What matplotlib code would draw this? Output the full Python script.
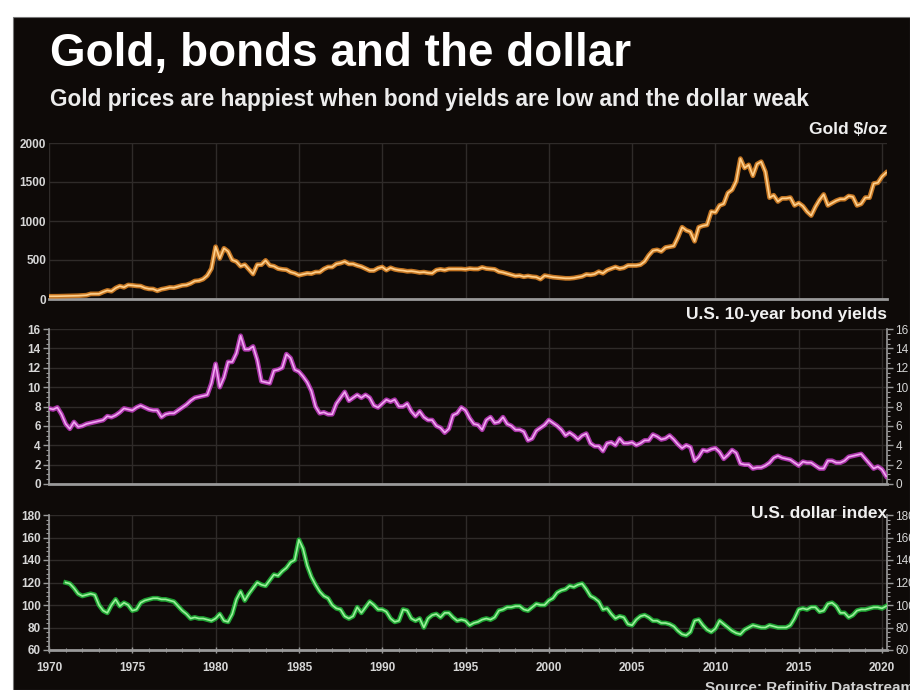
import numpy as np
import matplotlib
matplotlib.use("Agg")
import matplotlib.pyplot as plt
from matplotlib.patches import Rectangle
from matplotlib.ticker import MultipleLocator

plt.rcParams['font.family'] = ['Liberation Sans', 'DejaVu Sans']

# ---------------- data (quarterly readings) ----------------
start_year = 1970.0
gold = [
    35, 35, 35.5, 37,      # 1970
    38, 39, 41, 42,        # 1971
    46, 49, 65, 65,        # 1972
    66, 90, 110, 100,      # 1973
    140, 165, 150, 180,    # 1974
    175, 168, 165, 142,    # 1975
    130, 128, 105, 125,    # 1976
    135, 148, 145, 160,    # 1977
    175, 180, 200, 230,    # 1978
    235, 255, 300, 390,    # 1979
    670, 520, 650, 610,    # 1980
    500, 480, 420, 440,    # 1981
    380, 320, 440, 440,    # 1982
    495, 430, 420, 390,    # 1983
    380, 375, 345, 330,    # 1984
    305, 318, 330, 325,    # 1985
    345, 345, 385, 410,    # 1986
    410, 450, 460, 480,    # 1987
    450, 450, 430, 415,    # 1988
    390, 365, 365, 395,    # 1989
    410, 370, 400, 380,    # 1990
    370, 365, 355, 358,    # 1991
    350, 340, 345, 335,    # 1992
    330, 370, 380, 370,    # 1993
    385, 385, 385, 385,    # 1994
    380, 390, 385, 385,    # 1995
    405, 390, 385, 380,    # 1996
    350, 340, 325, 310,    # 1997
    295, 300, 285, 295,    # 1998
    285, 280, 255, 300,    # 1999
    290, 280, 275, 270,    # 2000
    265, 265, 270, 280,    # 2001
    290, 315, 310, 320,    # 2002
    350, 330, 370, 390,    # 2003
    410, 390, 400, 430,    # 2004
    430, 430, 440, 480,    # 2005
    560, 620, 630, 610,    # 2006
    660, 670, 680, 790,    # 2007
    920, 880, 860, 740,    # 2008
    920, 940, 950, 1120,   # 2009
    1110, 1200, 1220, 1360,  # 2010
    1400, 1510, 1800, 1680,  # 2011
    1720, 1580, 1730, 1760,  # 2012
    1630, 1300, 1330, 1250,  # 2013
    1290, 1290, 1300, 1200,  # 2014
    1230, 1190, 1120, 1070,  # 2015
    1180, 1270, 1340, 1200,  # 2016
    1230, 1260, 1280, 1280,  # 2017
    1320, 1310, 1200, 1220,  # 2018
    1300, 1300, 1480, 1490,  # 2019
    1570, 1620,              # 2020
]
bond = [
    7.8, 7.7, 7.9, 7.2,    # 1970
    6.2, 5.7, 6.4, 5.9,    # 1971
    6.0, 6.2, 6.3, 6.4,    # 1972
    6.5, 6.6, 7.0, 6.9,    # 1973
    7.1, 7.4, 7.8, 7.7,    # 1974
    7.6, 7.9, 8.1, 7.9,    # 1975
    7.7, 7.6, 7.6, 6.9,    # 1976
    7.2, 7.3, 7.3, 7.6,    # 1977
    7.9, 8.2, 8.6, 8.9,    # 1978
    9.0, 9.1, 9.2, 10.4,   # 1979
    12.4, 10.0, 11.0, 12.6,  # 1980
    12.6, 13.5, 15.3, 13.9,  # 1981
    13.9, 14.2, 12.8, 10.6,  # 1982
    10.5, 10.4, 11.7, 11.8,  # 1983
    12.0, 13.4, 13.0, 11.8,  # 1984
    11.6, 11.1, 10.5, 9.6,   # 1985
    8.0, 7.3, 7.4, 7.2,    # 1986
    7.2, 8.3, 8.9, 9.5,    # 1987
    8.6, 8.9, 9.2, 8.9,    # 1988
    9.2, 8.9, 8.1, 7.9,    # 1989
    8.3, 8.7, 8.5, 8.7,    # 1990
    8.0, 8.0, 8.3, 7.5,    # 1991
    7.0, 7.5, 6.9, 6.6,    # 1992
    6.6, 6.0, 5.8, 5.3,    # 1993
    5.7, 7.1, 7.3, 7.9,    # 1994
    7.6, 6.8, 6.2, 6.1,    # 1995
    5.6, 6.6, 6.9, 6.3,    # 1996
    6.4, 6.9, 6.2, 6.0,    # 1997
    5.6, 5.6, 5.4, 4.5,    # 1998
    4.7, 5.5, 5.8, 6.1,    # 1999
    6.6, 6.3, 6.0, 5.6,    # 2000
    5.0, 5.3, 5.0, 4.6,    # 2001
    5.0, 5.2, 4.2, 3.9,    # 2002
    3.9, 3.4, 4.2, 4.3,    # 2003
    4.0, 4.7, 4.2, 4.2,    # 2004
    4.3, 4.0, 4.2, 4.5,    # 2005
    4.5, 5.1, 4.9, 4.6,    # 2006
    4.7, 5.0, 4.6, 4.1,    # 2007
    3.7, 4.0, 3.8, 2.4,    # 2008
    2.8, 3.5, 3.4, 3.6,    # 2009
    3.7, 3.3, 2.6, 3.0,    # 2010
    3.5, 3.2, 2.1, 2.0,    # 2011
    2.0, 1.6, 1.7, 1.7,    # 2012
    1.9, 2.2, 2.7, 2.9,    # 2013
    2.7, 2.6, 2.5, 2.2,    # 2014
    1.9, 2.3, 2.2, 2.2,    # 2015
    1.9, 1.6, 1.6, 2.4,    # 2016
    2.4, 2.2, 2.2, 2.4,    # 2017
    2.8, 2.9, 3.0, 3.1,    # 2018
    2.6, 2.1, 1.6, 1.8,    # 2019
    1.5, 0.8,              # 2020
]
nan = float('nan')
dollar = [
    nan, nan, nan, nan,    # 1970
    120, 119, 115, 110,    # 1971
    108, 109, 110, 109,    # 1972
    100, 95, 93, 100,      # 1973
    105, 99, 102, 100,     # 1974
    95, 96, 102, 104,      # 1975
    105, 106, 106, 105,    # 1976
    105, 104, 103, 99,     # 1977
    95, 92, 88, 89,        # 1978
    88, 88, 87, 86,        # 1979
    88, 92, 86, 85,        # 1980
    92, 105, 112, 104,     # 1981
    110, 115, 120, 118,    # 1982
    117, 122, 127, 126,    # 1983
    130, 133, 138, 140,    # 1984
    158, 150, 135, 125,    # 1985
    118, 112, 108, 106,    # 1986
    100, 97, 96, 90,       # 1987
    88, 90, 98, 93,        # 1988
    98, 103, 100, 96,      # 1989
    96, 94, 88, 85,        # 1990
    86, 96, 95, 88,        # 1991
    86, 88, 80, 88,        # 1992
    91, 92, 89, 93,        # 1993
    93, 89, 86, 87,        # 1994
    86, 82, 84, 85,        # 1995
    87, 88, 87, 89,        # 1996
    95, 96, 98, 98,        # 1997
    99, 99, 96, 95,        # 1998
    98, 101, 100, 100,     # 1999
    104, 106, 111, 113,    # 2000
    114, 117, 116, 118,    # 2001
    119, 114, 108, 106,    # 2002
    103, 96, 97, 92,       # 2003
    88, 90, 89, 83,        # 2004
    82, 87, 90, 91,        # 2005
    89, 86, 86, 84,        # 2006
    84, 83, 81, 77,        # 2007
    74, 73, 76, 86,        # 2008
    87, 82, 78, 76,        # 2009
    79, 86, 83, 80,        # 2010
    77, 75, 74, 78,        # 2011
    80, 82, 81, 80,        # 2012
    80, 82, 81, 80,        # 2013
    80, 80, 82, 88,        # 2014
    96, 97, 96, 98,        # 2015
    98, 94, 95, 101,       # 2016
    102, 99, 93, 93,       # 2017
    89, 91, 95, 96,        # 2018
    96, 97, 98, 98,        # 2019
    97, 99,                # 2020
]
x_ticks = [1970, 1975, 1980, 1985, 1990, 1995, 2000, 2005, 2010, 2015, 2020]
title = "Gold, bonds and the dollar"
subtitle = "Gold prices are happiest when bond yields are low and the dollar weak"
panel_labels = ["Gold $/oz", "U.S. 10-year bond yields", "U.S. dollar index"]
source = "Source: Refinitiv Datastream"

years = start_year + 0.25 * np.arange(len(gold))

# ---------------- figure ----------------
W, H = 910, 690
fig = plt.figure(figsize=(W / 100, H / 100), dpi=100, facecolor='white')
BG = '#0e0a08'
fig.patches.append(Rectangle((13 / W, 0), 1 - 13 / W, 1 - 17 / H,
                             transform=fig.transFigure, facecolor=BG,
                             edgecolor='#777777', linewidth=0.8, zorder=-10))

def px_axes(l, t, r, b):
    ax = fig.add_axes([l / W, 1 - b / H, (r - l) / W, (b - t) / H])
    ax.set_facecolor('none')
    return ax

GRID = '#2f2b29'
TICKC = '#d6d6d6'
SPINE = '#9a9a9a'
L, R = 49, 887
XMAX = 1970 + (R - L) / ((882 - L) / 50.0)

def style(ax, ylim, major, minor, right_labels, bottom_labels):
    ax.set_xlim(1970, XMAX)
    ax.set_ylim(*ylim)
    ax.yaxis.set_major_locator(MultipleLocator(major))
    ax.set_xticks(x_ticks)
    ax.grid(True, color=GRID, linewidth=1.0)
    ax.set_axisbelow(True)
    ax.spines['top'].set_visible(False)
    ax.spines['bottom'].set_color(SPINE)
    ax.spines['bottom'].set_linewidth(2)
    ax.tick_params(axis='y', colors=SPINE, labelcolor=TICKC, labelsize=8.5,
                   length=4, width=1, pad=2)
    for lab in ax.get_yticklabels():
        lab.set_fontweight('bold')
    if minor:
        ax.yaxis.set_minor_locator(MultipleLocator(minor))
        ax.tick_params(axis='y', which='minor', colors=SPINE, length=2, width=0.8)
    if right_labels:
        ax.spines['left'].set_color(SPINE)
        ax.spines['right'].set_color(SPINE)
        ax.spines['left'].set_linewidth(1.2)
        ax.spines['right'].set_linewidth(1.2)
        ax.tick_params(axis='y', which='both', left=True, right=True,
                       labelleft=True, labelright=True)
    else:
        ax.spines['left'].set_visible(False)
        ax.spines['right'].set_visible(False)
        ax.tick_params(axis='y', which='both', length=0)
    if bottom_labels:
        ax.xaxis.set_minor_locator(MultipleLocator(1))
        ax.tick_params(axis='x', which='major', colors=SPINE, labelcolor=TICKC,
                       labelsize=8.5, length=5, width=1, direction='inout', pad=6)
        ax.tick_params(axis='x', which='minor', colors=SPINE, length=3,
                       width=0.8, direction='inout')
        for lab in ax.get_xticklabels():
            lab.set_fontweight('bold')
    else:
        ax.tick_params(axis='x', length=0, labelbottom=False)

def glow(ax, y, outer, inner):
    ax.plot(years, y, color=outer, linewidth=3.4, alpha=0.85,
            solid_joinstyle='round', zorder=3)
    ax.plot(years, y, color=inner, linewidth=1.2, solid_joinstyle='round',
            zorder=4)

ax1 = px_axes(L, 143, R, 299)
style(ax1, (0, 2000), 500, None, False, False)
glow(ax1, gold, '#e68a28', '#ffd08c')

ax2 = px_axes(L, 329, R, 484)
style(ax2, (0, 16), 2, 0.5, True, False)
glow(ax2, bond, '#c43cc4', '#f2a6f2')

ax3 = px_axes(L, 515, R, 650)
style(ax3, (60, 180), 20, 4, True, True)
glow(ax3, dollar, '#22bb3a', '#9af29a')

# ---------------- texts ----------------
fig.text(50 / W, 1 - 66 / H, title, fontsize=33, fontweight='bold',
         color='white', va='baseline', ha='left')
fig.text(50 / W, 1 - 106 / H, subtitle, fontsize=16.3, fontweight='bold',
         color='#ececec', va='baseline', ha='left')
label_y = [130, 315, 513]
for txt, yy in zip(panel_labels, label_y):
    fig.text(887 / W, 1 - yy / H, txt, fontsize=12.5, fontweight='bold',
             color='#f0f0f0', va='center', ha='right')
fig.text(705 / W, 1 - 681 / H, source, fontsize=11, fontweight='bold',
         color='#d0d0d0', va='top', ha='left')

fig.savefig('out.png', dpi=100, facecolor=fig.get_facecolor())
